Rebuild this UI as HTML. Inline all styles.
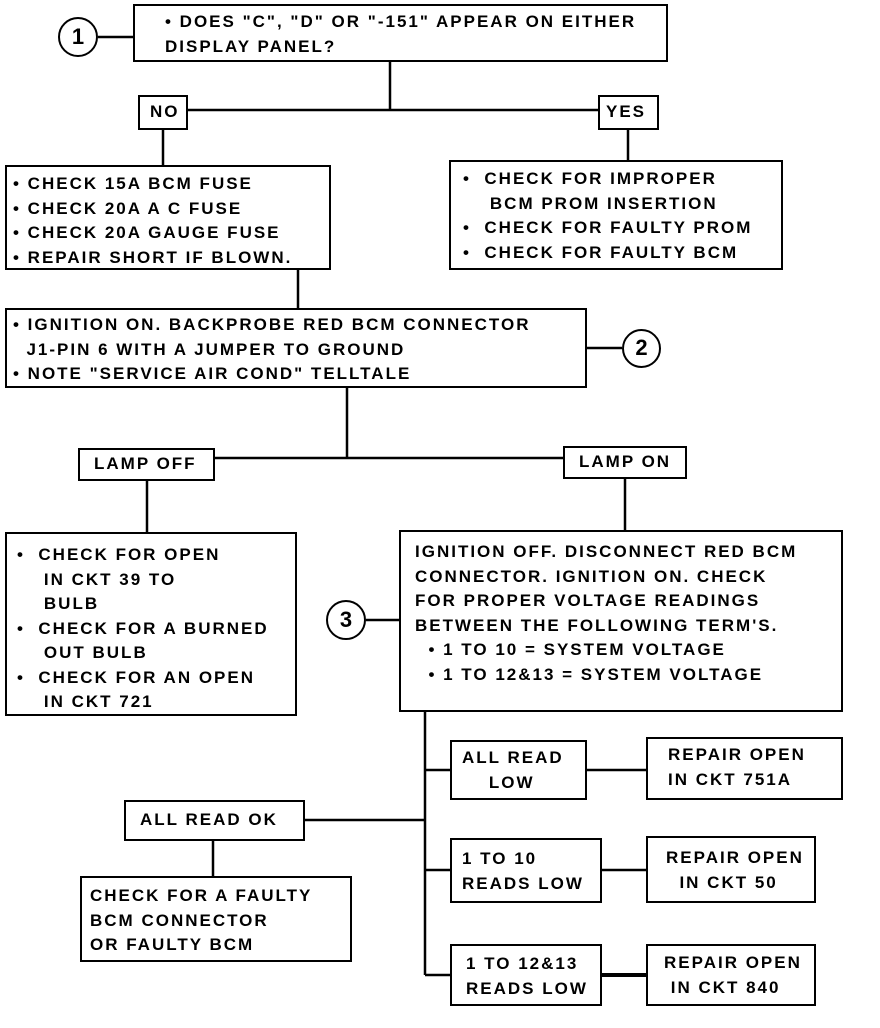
<!DOCTYPE html>
<html><head><meta charset="utf-8"><style>
html,body{margin:0;padding:0;background:#fff;}
body{width:880px;height:1028px;position:relative;overflow:hidden;font-family:"Liberation Sans",sans-serif;}
.b{position:absolute;border:2.5px solid #000;box-sizing:border-box;font-weight:bold;font-size:17px;letter-spacing:2px;line-height:24.5px;color:#000;white-space:pre;}
.c{position:absolute;border:2.5px solid #000;border-radius:50%;box-sizing:border-box;font-weight:bold;font-size:22px;text-align:center;}
svg{position:absolute;left:0;top:0;}
</style></head><body>
<svg width="880" height="1028"><g stroke="#000" stroke-width="2.5" fill="none">
<line x1="98" y1="37" x2="133" y2="37"/>
<line x1="390" y1="62" x2="390" y2="110"/>
<line x1="188" y1="110" x2="598" y2="110"/>
<line x1="163" y1="130" x2="163" y2="165"/>
<line x1="628" y1="130" x2="628" y2="160"/>
<line x1="298" y1="270" x2="298" y2="308"/>
<line x1="587" y1="348" x2="622" y2="348"/>
<line x1="347" y1="388" x2="347" y2="458"/>
<line x1="215" y1="458" x2="563" y2="458"/>
<line x1="147" y1="481" x2="147" y2="532"/>
<line x1="625" y1="479" x2="625" y2="530"/>
<line x1="366" y1="620" x2="399" y2="620"/>
<line x1="425" y1="712" x2="425" y2="975"/>
<line x1="425" y1="770" x2="450" y2="770"/>
<line x1="587" y1="770" x2="646" y2="770"/>
<line x1="425" y1="870" x2="450" y2="870"/>
<line x1="602" y1="870" x2="646" y2="870"/>
<line x1="425" y1="975" x2="450" y2="975"/>
<line x1="602" y1="975" x2="646" y2="975" stroke-width="4"/>
<line x1="305" y1="820" x2="425" y2="820"/>
<line x1="213" y1="841" x2="213" y2="876"/>
</g></svg>
<div class="c" style="left:58px;top:17px;width:40px;height:40px;line-height:35px;">1</div>
<div class="c" style="left:622px;top:329px;width:39px;height:39px;line-height:34px;">2</div>
<div class="c" style="left:326px;top:600px;width:40px;height:40px;line-height:35px;">3</div>
<div class="b" style="left:133px;top:4px;width:535px;height:58px;padding:4px 0 0 30px;">• DOES "C", "D" OR "-151" APPEAR ON EITHER
DISPLAY PANEL?</div>
<div class="b" style="left:138px;top:95px;width:50px;height:35px;padding:3px 0 0 10px;">NO</div>
<div class="b" style="left:598px;top:95px;width:61px;height:35px;padding:3px 0 0 6px;">YES</div>
<div class="b" style="left:5px;top:165px;width:326px;height:105px;padding:5px 0 0 6px;">• CHECK 15A BCM FUSE
• CHECK 20A A C FUSE
• CHECK 20A GAUGE FUSE
• REPAIR SHORT IF BLOWN.</div>
<div class="b" style="left:449px;top:160px;width:334px;height:110px;padding:5px 0 0 12px;">•  CHECK FOR IMPROPER
    BCM PROM INSERTION
•  CHECK FOR FAULTY PROM
•  CHECK FOR FAULTY BCM</div>
<div class="b" style="left:5px;top:308px;width:582px;height:80px;padding:3px 0 0 6px;">• IGNITION ON. BACKPROBE RED BCM CONNECTOR
  J1-PIN 6 WITH A JUMPER TO GROUND
• NOTE "SERVICE AIR COND" TELLTALE</div>
<div class="b" style="left:78px;top:448px;width:137px;height:33px;padding:2px 0 0 14px;">LAMP OFF</div>
<div class="b" style="left:563px;top:446px;width:124px;height:33px;padding:2px 0 0 14px;">LAMP ON</div>
<div class="b" style="left:5px;top:532px;width:292px;height:184px;padding:9px 0 0 10px;">•  CHECK FOR OPEN
    IN CKT 39 TO
    BULB
•  CHECK FOR A BURNED
    OUT BULB
•  CHECK FOR AN OPEN
    IN CKT 721</div>
<div class="b" style="left:399px;top:530px;width:444px;height:182px;padding:8px 0 0 14px;">IGNITION OFF. DISCONNECT RED BCM
CONNECTOR. IGNITION ON. CHECK
FOR PROPER VOLTAGE READINGS
BETWEEN THE FOLLOWING TERM'S.
  • 1 TO 10 = SYSTEM VOLTAGE
  • 1 TO 12&amp;13 = SYSTEM VOLTAGE</div>
<div class="b" style="left:450px;top:740px;width:137px;height:60px;padding:4px 0 0 10px;">ALL READ
    LOW</div>
<div class="b" style="left:646px;top:737px;width:197px;height:63px;padding:4px 0 0 20px;">REPAIR OPEN
IN CKT 751A</div>
<div class="b" style="left:124px;top:800px;width:181px;height:41px;padding:6px 0 0 14px;">ALL READ OK</div>
<div class="b" style="left:450px;top:838px;width:152px;height:65px;padding:7px 0 0 10px;">1 TO 10
READS LOW</div>
<div class="b" style="left:646px;top:836px;width:170px;height:67px;padding:8px 0 0 18px;">REPAIR OPEN
  IN CKT 50</div>
<div class="b" style="left:80px;top:876px;width:272px;height:86px;padding:6px 0 0 8px;">CHECK FOR A FAULTY
BCM CONNECTOR
OR FAULTY BCM</div>
<div class="b" style="left:450px;top:944px;width:152px;height:62px;padding:6px 0 0 14px;">1 TO 12&amp;13
READS LOW</div>
<div class="b" style="left:646px;top:944px;width:170px;height:62px;padding:5px 0 0 16px;">REPAIR OPEN
 IN CKT 840</div>
</body></html>
